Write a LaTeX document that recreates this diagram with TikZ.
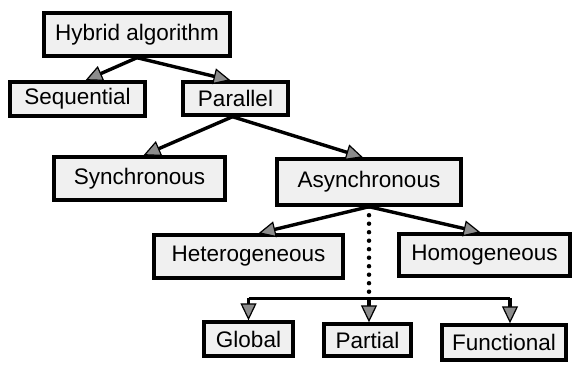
\documentclass[tikz,border=0pt]{standalone}
\usepackage{fontspec}
\setmainfont{Liberation Sans}
\usetikzlibrary{arrows.meta,shadows}
\begin{document}
\begin{tikzpicture}[x=1pt,y=-1pt,
  box/.style={draw,line width=3.4pt,fill=black!6,inner sep=0pt,font=\fontsize{22.5}{26}\selectfont,
    general shadow={fill=black,shadow xshift=2pt,shadow yshift=-2pt}},
  arr/.style={line width=3.4pt,-{Triangle[length=17pt,width=16pt,fill=black!45,line width=1.2pt]}}]
\useasboundingbox (0,0) rectangle (574,365);
\node[box,minimum width=186pt,minimum height=43pt] (hybrid) at (137,34.5) {Hybrid algorithm};
\node[box,minimum width=135pt,minimum height=34pt] (seq) at (77.5,99) {Sequential};
\node[box,minimum width=105pt,minimum height=33pt] (par) at (235.5,98.5) {Parallel};
\node[box,minimum width=171pt,minimum height=43pt] (sync) at (139.5,178.5) {Synchronous};
\node[box,minimum width=184pt,minimum height=46pt] (async) at (369,182) {Asynchronous};
\node[box,minimum width=189pt,minimum height=43pt] (het) at (248.5,256.5) {Heterogeneous};
\node[box,minimum width=171pt,minimum height=42pt] (hom) at (484.5,255) {Homogeneous};
\node[box,minimum width=89pt,minimum height=34pt] (glob) at (248.5,339) {Global};
\node[box,minimum width=87pt,minimum height=32pt] (part) at (367.5,340) {Partial};
\node[box,minimum width=124pt,minimum height=35pt] (func) at (504,342.5) {Functional};
% tree edges
\draw[arr] (hybrid.south) -- ([xshift=8pt]seq.north);
\draw[arr] (hybrid.south) -- ([xshift=-5pt]par.north);
\draw[arr] ([xshift=-3pt]par.south) -- ([xshift=4pt]sync.north);
\draw[arr] ([xshift=-3pt]par.south) -- ([xshift=-6pt]async.north);
\draw[arr] (async.south) -- ([xshift=10pt]het.north);
\draw[arr] (async.south) -- ([xshift=-4pt]hom.north);
% dotted branch
\coordinate (bar) at (369,298);
\draw[line width=4.5pt,line cap=round,dash pattern=on 0pt off 8.5pt] (async.south) -- (bar);
\draw[line width=3pt] (glob.north |- bar) -- ([xshift=6pt]func.north |- bar);
\draw[arr] (glob.north |- bar) -- (glob.north);
\draw[arr] (bar) -- (bar |- part.north);
\draw[arr] ([xshift=6pt]func.north |- bar) -- ([xshift=6pt]func.north);
\end{tikzpicture}
\end{document}
